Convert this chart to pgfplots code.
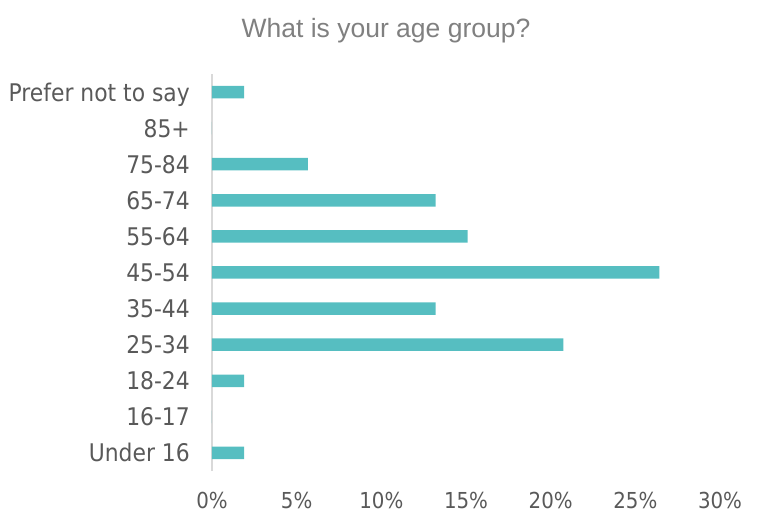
\documentclass[border=0pt]{standalone}
\usepackage{fontspec}
\usepackage{pgfplots}
\pgfplotsset{compat=1.18}
\newfontfamily\labfont{DejaVu Sans Condensed}
\newfontfamily\titfont{Liberation Sans}
\definecolor{barcol}{RGB}{86,190,193}
\definecolor{labcol}{RGB}{89,89,89}
\definecolor{titcol}{RGB}{128,128,128}
\definecolor{axcol}{RGB}{217,217,217}
\begin{document}
\begin{tikzpicture}
\useasboundingbox (0,0) rectangle (759bp,512bp);
\begin{axis}[
  at={(212bp,41bp)}, anchor=south west,
  scale only axis, width=508bp, height=397bp,
  xbar, bar width=12.5bp,
  xmin=0, xmax=30, ymin=-0.5, ymax=10.5,
  axis y line*=left, axis x line*=bottom,
  x axis line style={draw=none},
  y axis line style={draw=axcol, line width=1.2bp},
  major tick length=0pt,
  xtick={0,5,10,15,20,25,30},
  xticklabels={0\%,5\%,10\%,15\%,20\%,25\%,30\%},
  ytick={0,1,2,3,4,5,6,7,8,9,10},
  yticklabels={Under 16,16-17,18-24,25-34,35-44,45-54,55-64,65-74,75-84,85+,Prefer not to say},
  tick label style={color=labcol, inner sep=0pt},
  yticklabel style={font=\labfont\fontsize{24.3bp}{28bp}\selectfont, anchor=base east, xshift=-22bp, yshift=-9bp},
  xticklabel style={font=\labfont\fontsize{22bp}{26bp}\selectfont, anchor=base, yshift=-37bp, text depth=0pt},
  /pgf/number format/assume math mode=true,
]
\addplot[fill=barcol, draw=none] coordinates {
  (1.89,0) (0,1) (1.89,2) (20.75,3) (13.21,4) (26.42,5) (15.09,6) (13.21,7) (5.66,8) (0,9) (1.89,10)
};
\end{axis}
\node[anchor=base, font=\titfont\fontsize{26.5bp}{30bp}\selectfont, color=titcol] at (386bp,474.7bp) {What is your age group?};
\end{tikzpicture}
\end{document}
